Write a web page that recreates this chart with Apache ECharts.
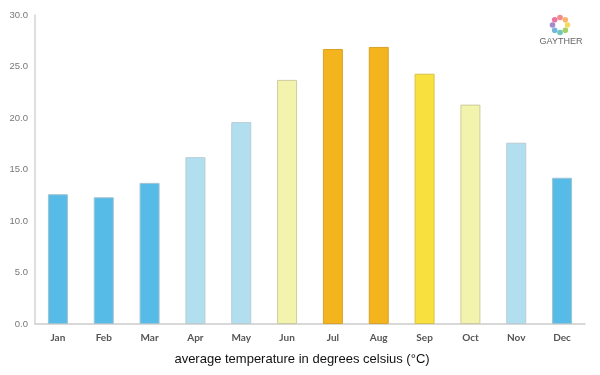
<!DOCTYPE html>
<html>
<head>
<meta charset="utf-8">
<script src="https://cdn.jsdelivr.net/npm/echarts@6/dist/echarts.min.js"></script>
<style>
  html, body { margin: 0; padding: 0; background: #fff; }
  #chart { width: 600px; height: 375px; }
</style>
</head>
<body>
<div id="chart"></div>
<script>
  // average monthly temperature (°C)
  const months = ["Jan", "Feb", "Mar", "Apr", "May", "Jun", "Jul", "Aug", "Sep", "Oct", "Nov", "Dec"];
  const temps = [12.6, 12.3, 13.7, 16.2, 19.6, 23.7, 26.7, 26.9, 24.3, 21.3, 17.6, 14.2];
  const yTicks = [0, 5, 10, 15, 20, 25, 30];

  // colour band per month
  const barColors = [
    "#56BBE6", "#56BBE6", "#56BBE6",
    "#B1DFF0", "#B1DFF0",
    "#F2F3AC",
    "#F3B41E", "#F3B41E",
    "#F8E13F",
    "#F2F3AC",
    "#B1DFF0",
    "#56BBE6",
  ];
  const borderColors = [
    "#9FC3D2", "#9FC3D2", "#9FC3D2",
    "#B8CCD4", "#B8CCD4",
    "#CFCB9E",
    "#D9A22A", "#D9A22A",
    "#D8C24A",
    "#CFCB9E",
    "#B8CCD4",
    "#9FC3D2",
  ];

  const logoColors = ["#F36B6B", "#F7A14A", "#F4D03F", "#8CC63F", "#4CB8A8", "#4FA3D9", "#8E6BC2", "#E8508A"];

  const chart = echarts.init(document.getElementById("chart"), null, { renderer: "canvas" });

  const logoDots = logoColors.map((c, i) => {
    const a = (i / logoColors.length) * Math.PI * 2 - Math.PI / 2;
    return {
      type: "circle",
      shape: { cx: 560 + Math.cos(a) * 7.5, cy: 25 + Math.sin(a) * 7.5, r: 2.8 },
      style: { fill: c, opacity: 0.8 },
      silent: true,
    };
  });

  const options = {
    backgroundColor: "#fff",
    animation: false,
    grid: { left: 35, right: 15, top: 15, bottom: 51 },
    xAxis: {
      type: "category",
      data: months,
      axisLine: { lineStyle: { color: "#CCCCCC", width: 1.5 } },
      axisTick: { show: false },
      axisLabel: {
        color: "#555",
        fontFamily: "Lato",
        fontWeight: "bold",
        fontSize: 10,
        margin: 9,
      },
    },
    yAxis: {
      type: "value",
      min: yTicks[0],
      max: yTicks[yTicks.length - 1],
      interval: 5,
      axisLine: { show: true, lineStyle: { color: "#D5D5D5", width: 1.5 } },
      axisTick: { show: false },
      splitLine: { show: false },
      axisLabel: {
        color: "#777",
        fontFamily: "Liberation Sans",
        fontSize: 9.5,
        margin: 7,
        formatter: (v) => v.toFixed(1),
      },
    },
    series: [
      {
        type: "bar",
        barWidth: 20,
        data: temps.map((v, i) => ({
          value: v,
          itemStyle: { color: barColors[i], borderColor: borderColors[i], borderWidth: 1 },
        })),
      },
    ],
    graphic: [
      {
        type: "text",
        x: 302,
        y: 353,
        style: {
          text: "average temperature in degrees celsius (°C)",
          fill: "#111",
          font: "13px 'Liberation Sans', Arial, sans-serif",
          align: "center",
        },
      },
      ...logoDots,
      {
        type: "text",
        x: 561,
        y: 37,
        style: {
          text: "GAYTHER",
          fill: "#666",
          font: "9px 'Liberation Sans', sans-serif",
          align: "center",
        },
      },
    ],
  };

  chart.setOption(options);
</script>
</body>
</html>
